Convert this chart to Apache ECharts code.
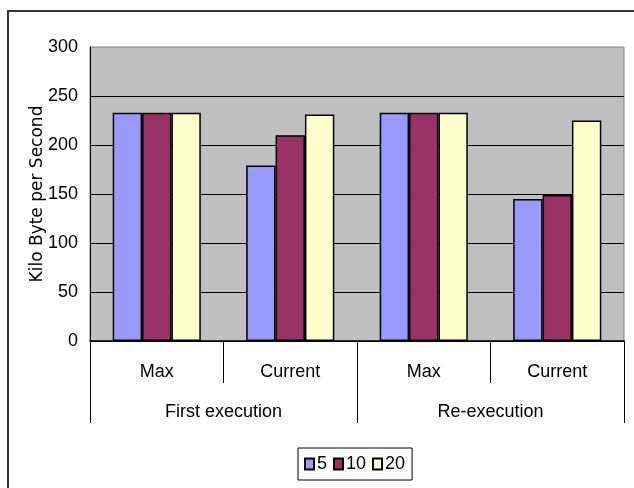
<!DOCTYPE html>
<html>
<head>
<meta charset="utf-8">
<script src="https://cdn.jsdelivr.net/npm/echarts@6/dist/echarts.min.js"></script>
<style>
  html, body { margin: 0; padding: 0; background: #fff; }
  #chart { width: 634px; height: 488px; }
</style>
</head>
<body>
<div id="chart"></div>
<script>
// Throughput per phase, grouped by execution run
const subCategories = ['Max', 'Current', 'Max', 'Current'];
const groupCategories = ['First execution', 'Re-execution'];
const seriesNames = ['5', '10', '20'];
const values5 = [233, 179, 233, 145];
const values10 = [233, 210, 233, 149];
const values20 = [233, 231, 233, 225];
const yTicks = [0, 50, 100, 150, 200, 250, 300];

const FONT = '"Liberation Sans", sans-serif';
const colors = ['#9999FF', '#993366', '#FFFFCC'];
const allValues = [values5, values10, values20];

const chart = echarts.init(document.getElementById('chart'));

chart.setOption({
  animation: false,
  backgroundColor: '#fff',
  graphic: [{
    type: 'rect',
    shape: { x: 8, y: 11, width: 700, height: 600 },
    style: { fill: 'none', stroke: '#333', lineWidth: 2 },
    silent: true
  }],
  grid: {
    left: 90, right: 10, top: 47, bottom: 147,
    show: true,
    backgroundColor: '#C0C0C0',
    borderColor: '#808080',
    borderWidth: 1
  },
  legend: {
    data: seriesNames,
    left: 298,
    top: 448,
    padding: [7, 7, 7, 6],
    borderColor: '#000',
    borderWidth: 1,
    itemWidth: 9,
    itemHeight: 11,
    itemGap: 6,
    icon: 'rect',
    textStyle: { fontFamily: FONT, fontSize: 18, color: '#000', padding: [0, 0, 0, -2] }
  },
  xAxis: [{
    type: 'category',
    data: subCategories,
    position: 'bottom',
    axisLine: { show: true, lineStyle: { color: '#000', width: 1.5 } },
    axisTick: { show: true, length: 42, interval: 0, lineStyle: { color: '#000' } },
    axisLabel: { margin: 22, fontFamily: FONT, fontSize: 18, color: '#000', interval: 0 }
  }, {
    type: 'category',
    data: groupCategories,
    position: 'bottom',
    axisLine: { show: false },
    axisTick: { show: true, length: 82, interval: 0, lineStyle: { color: '#000' } },
    axisLabel: { margin: 62, fontFamily: FONT, fontSize: 18, color: '#000', interval: 0 }
  }],
  yAxis: {
    type: 'value',
    min: yTicks[0],
    max: yTicks[yTicks.length - 1],
    interval: 50,
    name: 'Kilo Byte per Second',
    nameLocation: 'middle',
    nameRotate: 90,
    nameGap: 44,
    nameMoveOverlap: false,
    nameTextStyle: { fontFamily: '"DejaVu Sans", sans-serif', fontSize: 17, color: '#000' },
    axisLine: { show: true, lineStyle: { color: '#000', width: 1 } },
    axisTick: { show: false },
    axisLabel: { margin: 12, fontFamily: FONT, fontSize: 18, color: '#000' },
    splitLine: { show: true, showMaxLine: false, lineStyle: { color: '#000', width: 1 } }
  },
  series: seriesNames.map((name, i) => ({
    name: name,
    type: 'bar',
    xAxisIndex: 0,
    data: allValues[i],
    barGap: '0%',
    barCategoryGap: '34%',
    itemStyle: { color: colors[i], borderColor: '#000', borderWidth: 1.5 }
  }))
});
</script>
</body>
</html>
